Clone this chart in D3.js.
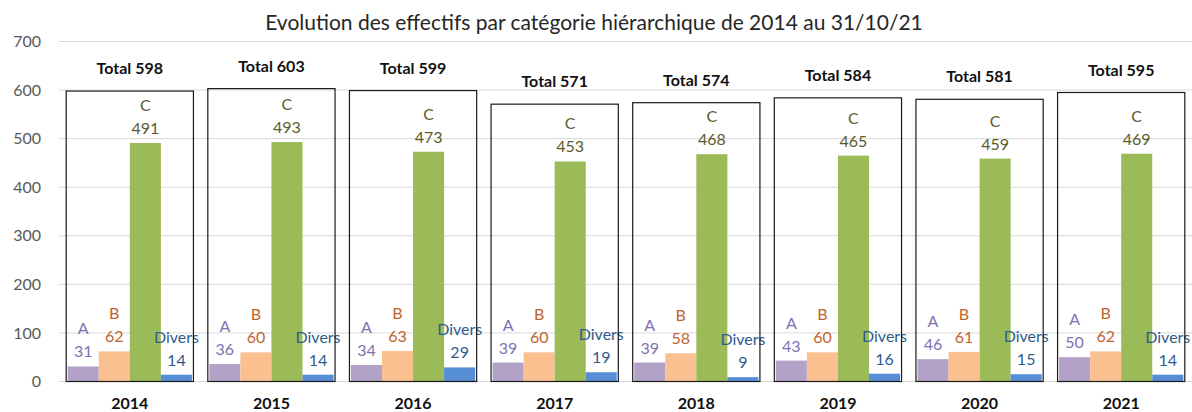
<!DOCTYPE html>
<html><head><meta charset="utf-8">
<script src="https://cdn.jsdelivr.net/npm/d3@7"></script>
<style>body{margin:0;background:#fff;}svg{display:block;font-family:Lato, "Open Sans", sans-serif;}</style>
</head><body><svg id="c" width="1192" height="412"></svg>
<script>
const years = ["2014","2015","2016","2017","2018","2019","2020","2021"];
const seriesNames = ["A","B","C","Divers"];
const valuesA = [31,36,34,39,39,43,46,50];
const valuesB = [62,60,63,60,58,60,61,62];
const valuesC = [491,493,473,453,468,465,459,469];
const valuesDivers = [14,14,29,19,9,16,15,14];
const totals = [598,603,599,571,574,584,581,595];
const yTicks = [0,100,200,300,400,500,600,700];
const title = "Evolution des effectifs par catégorie hiérarchique de 2014 au 31/10/21";

const series = [valuesA, valuesB, valuesC, valuesDivers];
const barColors = ["#b3a2c7","#fac090","#9bbb59","#558ed5"];
const labelColors = ["#7f72b0","#c0642d","#5b5b2b","#2f5b8c"];

const svg = d3.select("#c");
const m = {left:59, right:0, top:41.5, bottom:30.5};
const W = 1192, H = 412;
const x = d3.scaleBand().domain(years).range([m.left, W - m.right]).paddingInner(0).paddingOuter(0);
const y = d3.scaleLinear().domain([0,700]).range([H - m.bottom, m.top]);
const inner = d3.scaleBand().domain(seriesNames).range([0, x.bandwidth()]).paddingOuter(0.28).paddingInner(0);

// title
svg.append("text").attr("x", 594).attr("y", 30).attr("text-anchor","middle")
  .attr("font-size", 21).attr("fill","#262626").text(title);

// grid
svg.append("g").selectAll("line").data(yTicks).join("line")
  .attr("x1", m.left).attr("x2", W).attr("y1", d=>y(d)).attr("y2", d=>y(d))
  .attr("stroke","#d9d9d9").attr("stroke-width",1);

// y axis labels
const yAxis = d3.axisLeft(y).tickValues(yTicks).tickSize(0).tickPadding(0);
const ga = svg.append("g").attr("transform",`translate(${41},0)`).call(yAxis);
ga.select(".domain").remove();
ga.selectAll("text").attr("font-size",16).attr("fill","#595959").attr("font-family","Lato, sans-serif");

// bars
const bw = inner.bandwidth();
series.forEach((vals, si) => {
  const g = svg.append("g");
  g.selectAll("rect").data(years).join("rect")
    .attr("x", d => x(d) + inner(seriesNames[si]))
    .attr("y", (d,i) => y(vals[i]))
    .attr("width", bw)
    .attr("height", (d,i) => y(0) - y(vals[i]))
    .attr("fill", barColors[si]);
  g.selectAll("text.v").data(years).join("text").attr("class","v")
    .attr("x", d => x(d) + inner(seriesNames[si]) + bw/2)
    .attr("y", (d,i) => y(vals[i]) - 9)
    .attr("text-anchor","middle").attr("font-size",16).attr("fill", labelColors[si])
    .text((d,i)=>vals[i]);
  g.selectAll("text.n").data(years).join("text").attr("class","n")
    .attr("x", d => x(d) + inner(seriesNames[si]) + bw/2)
    .attr("y", (d,i) => y(vals[i]) - 32)
    .attr("text-anchor","middle").attr("font-size",16).attr("fill", labelColors[si])
    .text(seriesNames[si]);
});

// total boxes
svg.append("g").selectAll("rect").data(years).join("rect")
  .attr("x", d => x(d) + inner("A") - 1.5)
  .attr("y", (d,i) => y(totals[i]))
  .attr("width", bw*4 + 3)
  .attr("height", (d,i) => y(0) - y(totals[i]))
  .attr("fill","none").attr("stroke","#1a1a1a").attr("stroke-width",1.2);
svg.append("g").selectAll("text").data(years).join("text")
  .attr("x", d => x(d) + x.bandwidth()/2)
  .attr("y", (d,i) => y(totals[i]) - 17)
  .attr("text-anchor","middle").attr("font-size",16).attr("font-weight","bold").attr("fill","#111")
  .text((d,i)=>"Total " + totals[i]);

// x axis labels
const xAxis = d3.axisBottom(x).tickSize(0).tickPadding(0);
const gx = svg.append("g").attr("transform",`translate(0,${H - 14})`).call(xAxis);
gx.select(".domain").remove();
gx.selectAll("text").attr("font-size",16).attr("font-weight","bold").attr("fill","#111").attr("font-family","Lato, sans-serif");
</script></body></html>
